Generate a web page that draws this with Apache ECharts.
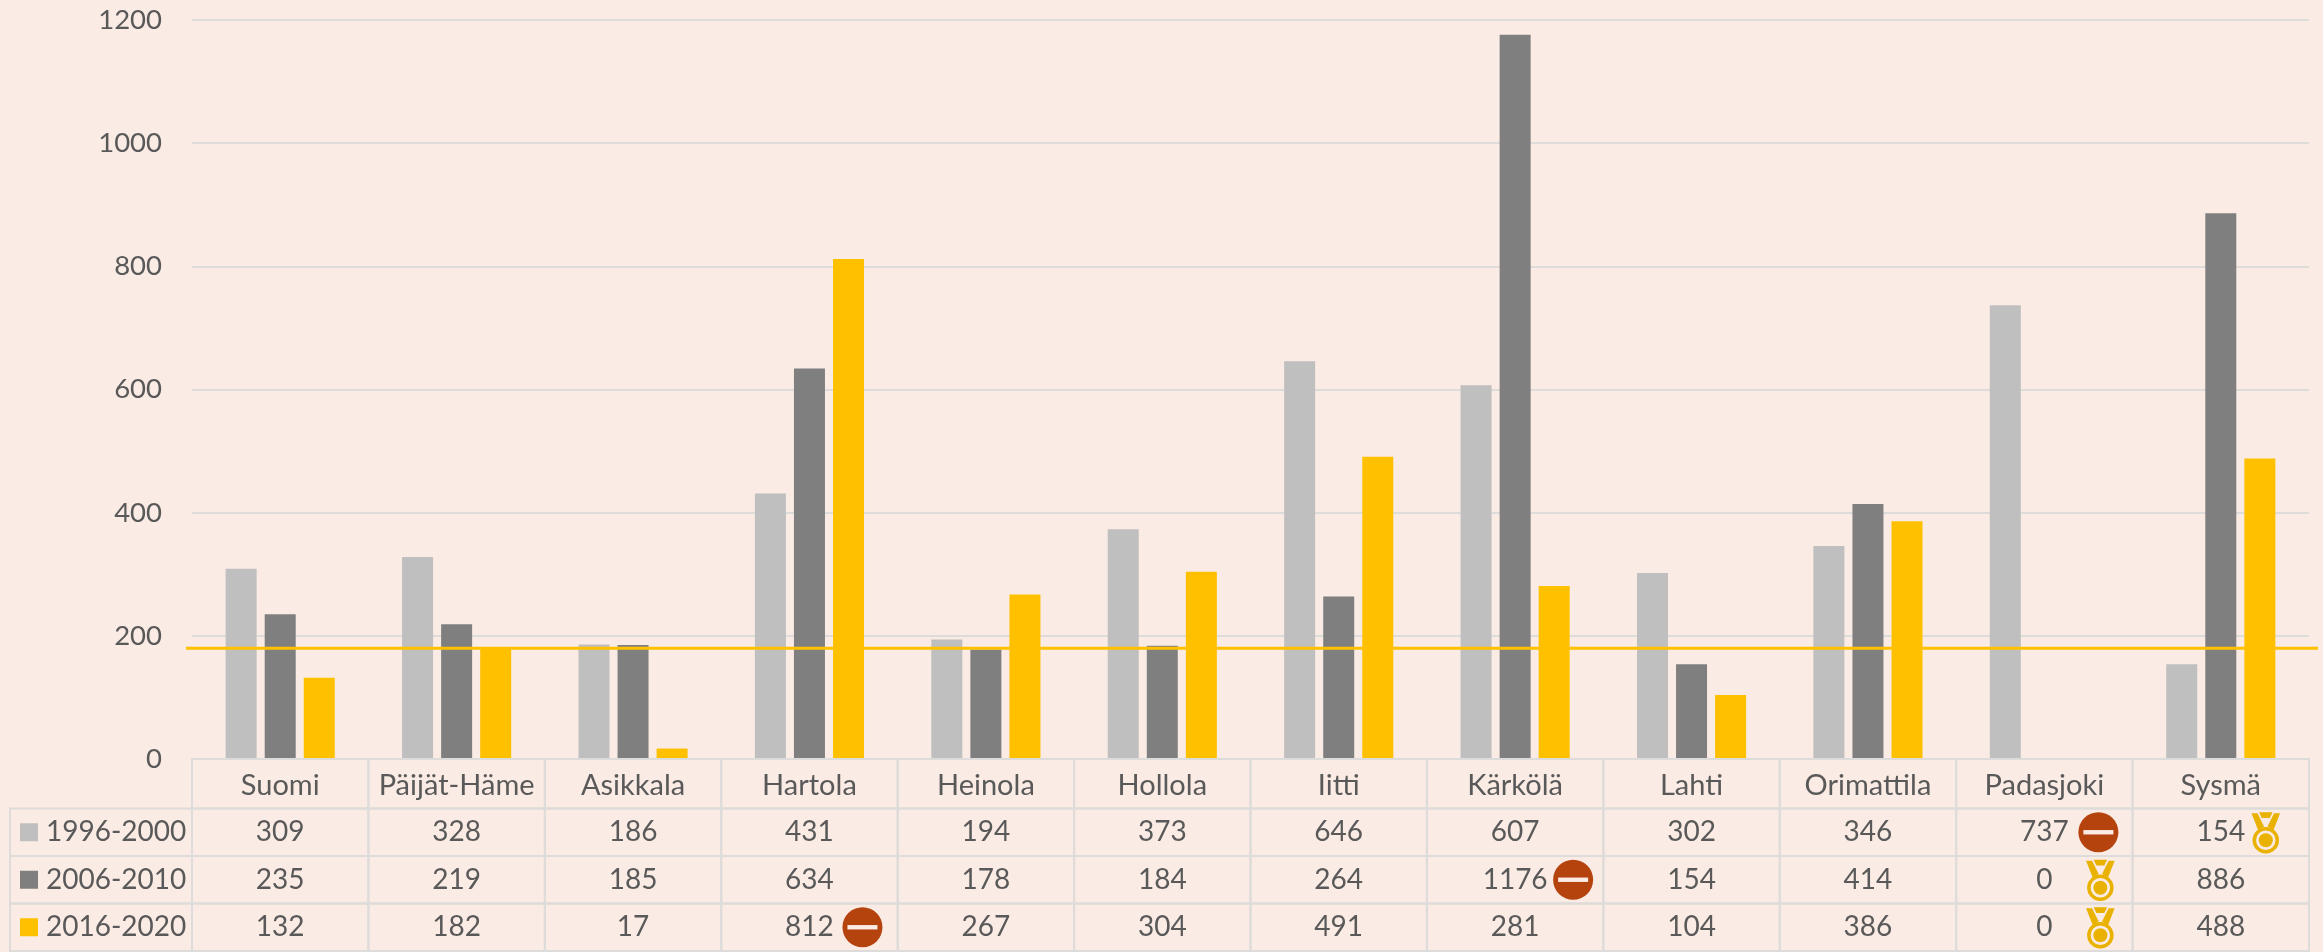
<!DOCTYPE html>
<html><head><meta charset="utf-8">
<style>html,body{margin:0;padding:0;background:#FAEBE4}#c{width:2323px;height:952px}</style>
<script src="https://cdn.jsdelivr.net/npm/echarts@6/dist/echarts.min.js"></script>
</head><body><div id="c"></div>
<script>
const categories = ['Suomi','Päijät-Häme','Asikkala','Hartola','Heinola','Hollola','Iitti','Kärkölä','Lahti','Orimattila','Padasjoki','Sysmä'];
const seriesNames = ['1996-2000','2006-2010','2016-2020'];
const values1996 = [309,328,186,431,194,373,646,607,302,346,737,154];
const values2006 = [235,219,185,634,178,184,264,1176,154,414,0,886];
const values2016 = [132,182,17,812,267,304,491,281,104,386,0,488];
const referenceValue = 180;
const yTicks = [0,200,400,600,800,1000,1200];
const icons = [
  {cat:3, row:2, type:'stop'},
  {cat:7, row:1, type:'stop'},
  {cat:10, row:0, type:'stop'},
  {cat:10, row:1, type:'medal'},
  {cat:10, row:2, type:'medal'},
  {cat:11, row:0, type:'medal'}
];
const iconOffsets = {'3,2':53,'7,1':58,'10,0':54,'10,1':56,'10,2':56,'11,0':45};

const TXT='#595959', GRID='#DEDCDA', COLORS=['#BFBFBF','#7F7F7F','#FFC000'], FONT='Lato';
const allValues=[values1996,values2006,values2016];
const L=192, W=2117, T=20, B0=759, H=B0-T, TT=761, TH=190;

const rowNames=['',...seriesNames];
const cellData=[];
categories.forEach((c,ci)=>{
  cellData.push([ci,0,'']);
  seriesNames.forEach((s,si)=>cellData.push([ci,si+1,allValues[si][ci]]));
});

function renderCell(params,api){
  const c=api.coord([api.value(0),api.value(1)]);
  const s=api.size([1,1]);
  const v=cellData[params.dataIndex][2];
  const ext=api.value(1)===0?TT-B0:0;
  return {type:'group',children:[
    {type:'rect',shape:{x:c[0]-s[0]/2,y:c[1]-s[1]/2-ext,width:s[0],height:s[1]+ext},style:{fill:'none',stroke:GRID,lineWidth:2}},
    {type:'text',style:{text:String(v),x:c[0],y:c[1],align:'center',verticalAlign:'middle',font:'28px '+FONT,fill:TXT}}
  ]};
}
function renderLegend(params,api){
  const c=api.coord([0,api.value(0)]);
  const s=api.size([1,1]);
  const x0=10, xR=c[0]-s[0]/2;
  const i=params.dataIndex;
  return {type:'group',children:[
    {type:'rect',shape:{x:x0,y:c[1]-s[1]/2,width:xR-x0,height:s[1]},style:{fill:'none',stroke:GRID,lineWidth:2}},
    {type:'rect',shape:{x:20,y:c[1]-9,width:18,height:18},style:{fill:COLORS[i]}},
    {type:'text',style:{text:seriesNames[i],x:46,y:c[1],align:'left',verticalAlign:'middle',font:'28px '+FONT,fill:TXT}}
  ]};
}
function renderIcon(params,api){
  const ic=icons[params.dataIndex];
  const c=api.coord([ic.cat,ic.row+1]);
  const cx=c[0]+iconOffsets[ic.cat+','+ic.row], cy=c[1];
  if(ic.type==='stop'){
    return {type:'group',children:[
      {type:'circle',shape:{cx,cy,r:20},style:{fill:'#B5430E'}},
      {type:'rect',shape:{x:cx-15,y:cy-2.2,width:30,height:4.4},style:{fill:'#FAEBE4'}}
    ]};
  }
  const G='#E9B100';
  const poly=(pts)=>({type:'polygon',shape:{points:pts.map(p=>[cx+p[0],cy+p[1]])},style:{fill:G}});
  return {type:'group',children:[
    poly([[-14.3,-19],[-8.3,-19],[-1.7,-5.7],[-7.7,-2.3]]),
    poly([[14.3,-19],[8.3,-19],[1.7,-5.7],[7.7,-2.3]]),
    poly([[-6.7,-20],[6.7,-20],[4,-14.3],[-4,-14.3]]),
    {type:'circle',shape:{cx,cy:cy+8,r:11.5},style:{fill:'none',stroke:G,lineWidth:3.5}},
    {type:'circle',shape:{cx,cy:cy+8,r:7},style:{fill:G}}
  ]};
}

const chart=echarts.init(document.getElementById('c'),null,{renderer:'canvas'});
chart.setOption({
  animation:false,
  backgroundColor:'#FAEBE4',
  grid:[
    {left:L,top:T,width:W,height:H},
    {left:L,top:TT,width:W,height:TH},
    {left:186,top:T,width:2132,height:H}
  ],
  xAxis:[
    {gridIndex:0,type:'category',data:categories,axisTick:{show:false},axisLine:{lineStyle:{color:GRID,width:2}},
     axisLabel:{color:TXT,fontFamily:FONT,fontSize:29,margin:12,interval:0}},
    {gridIndex:1,type:'category',data:categories,show:false},
    {gridIndex:2,type:'category',data:['a','b'],boundaryGap:false,show:false}
  ],
  yAxis:[
    {gridIndex:0,type:'value',min:0,max:1200,interval:200,axisLine:{show:false},axisTick:{show:false},
     splitLine:{lineStyle:{color:GRID,width:2}},
     axisLabel:{color:TXT,fontFamily:FONT,fontSize:27.5,margin:30,formatter:v=>yTicks.includes(v)?String(v):''}},
    {gridIndex:1,type:'category',inverse:true,data:rowNames,show:false},
    {gridIndex:2,type:'value',min:0,max:1200,show:false}
  ],
  series:[
    ...seriesNames.map((n,i)=>({name:n,type:'bar',xAxisIndex:0,yAxisIndex:0,data:allValues[i],barWidth:31,barGap:'26%',
      itemStyle:{color:COLORS[i]},z:2})),
    {name:'Viite',type:'line',xAxisIndex:2,yAxisIndex:2,data:[referenceValue,referenceValue],symbol:'none',
      lineStyle:{color:'#FFC000',width:3},z:5},
    {type:'custom',xAxisIndex:1,yAxisIndex:1,data:cellData.map(d=>[d[0],d[1]]),renderItem:renderCell,encode:{x:0,y:1},z:3,silent:true},
    {type:'custom',xAxisIndex:1,yAxisIndex:1,data:seriesNames.map((n,i)=>[i+1]),renderItem:renderLegend,encode:{y:0},z:3,silent:true},
    {type:'custom',xAxisIndex:1,yAxisIndex:1,data:icons.map(ic=>[ic.cat,ic.row+1]),renderItem:renderIcon,encode:{x:0,y:1},z:4,silent:true}
  ]
});
</script></body></html>
